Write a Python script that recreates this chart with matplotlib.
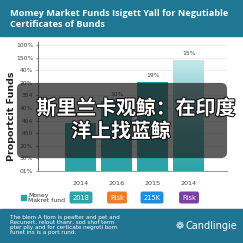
import numpy as np
import matplotlib
matplotlib.use('Agg')
import matplotlib.pyplot as plt
from matplotlib.patches import Rectangle, FancyBboxPatch
from matplotlib.colors import LinearSegmentedColormap
import matplotlib.patheffects as pe

# data
categories = ['2014', '2016', '2015', '2014']
values = [3.8, 5.55, 7.05, 8.8]
bar_labels = ['', '10%', '19%', '15%']
ytick_labels = ['01%', '30%', '20%', '450', '464', '40%', '354', '20%', '40%', '150%', '100%']
legend_tags = ['2018', 'Risk', '215K', 'Risk']
tag_colors = ['#2aa5a8', '#f47b20', '#1d8fe1', '#7a3ea5']

title = 'Momey Market Funds Isigett Yall for Negutiable\nCertificates of Bunds'
overlay_line1 = '斯里兰卡观鲸：在印度'
overlay_line2 = '洋上找蓝鲸'
footer_text = ('The blem A fiom is peafter and pet and\n'
               'Recunert, relout thanr, sod shof term\n'
               'pter pliy and for certicate negroti bom\n'
               'funet ins is a port rund.')

W = H = 243
fig = plt.figure(figsize=(2.43, 2.43), dpi=100)
fig.patch.set_facecolor('white')

def fx(x):
    return x / W

def fy(y):
    return 1 - y / H

# header and footer bands
fig.patches.append(Rectangle((0, fy(36)), 1, 36 / H, transform=fig.transFigure,
                             color='#1f7794', zorder=0))
fig.patches.append(Rectangle((0, 0), 1, 34 / H, transform=fig.transFigure,
                             color='#1f7592', zorder=0))
fig.text(fx(10), fy(19), title, color='white', fontsize=6.6, fontweight='bold',
         family='Open Sans', va='center', ha='left', linespacing=1.15)

# chart axes
unit = 12.6
ax = fig.add_axes([fx(38), fy(171), fx(227) - fx(38), 10.2 * unit / H])
x = np.arange(len(categories))
teal = '#2ba3a8'
bars = ax.bar(x, values, width=0.86, color=teal, zorder=2)

# gradient on the last bar (light at the top)
last = bars[-1]
last.set_facecolor('none')
grad = np.linspace(0, 1, 100).reshape(-1, 1)
cmap = LinearSegmentedColormap.from_list('g', [teal, '#6cc4c8', '#c4e8ea'])
im = ax.imshow(grad, cmap=cmap, aspect='auto', zorder=2, origin='lower',
               extent=[x[-1] - 0.43, x[-1] + 0.43, 0, values[-1]])
im.set_clip_path(last)
ax.set_xlim(-1.19, 4.06)
ax.set_ylim(0, 10.2)

for xi, v, lab in zip(x, values, bar_labels):
    if lab:
        ax.text(xi, v + 0.3, lab, ha='center', va='bottom', fontsize=4.3, color='#444444')

ax.set_yticks(range(11))
ax.set_yticklabels(ytick_labels, fontsize=4.3, color='#444444')
ax.set_xticks(x)
ax.set_xticklabels(categories, fontsize=4.6, color='#444444')
ax.tick_params(axis='y', length=1.5, width=0.5, pad=2, color='#666666')
ax.tick_params(axis='x', length=0, pad=7)
ax.grid(axis='y', color='#e6e6e6', linewidth=0.5, zorder=0)
ax.set_axisbelow(True)
for s in ['top', 'right']:
    ax.spines[s].set_visible(False)
ax.spines['left'].set_color('#555555')
ax.spines['left'].set_linewidth(0.6)
ax.spines['bottom'].set_color('#888888')
ax.spines['bottom'].set_linewidth(0.6)
fig.text(fx(12), fy(116), 'Proportcit Funds', rotation=90, fontsize=6.8,
         fontweight='bold', color='#222222', ha='center', va='center')

# legend row
fig.patches.append(Rectangle((fx(21), fy(200)), 5 / W, 5 / H, transform=fig.transFigure,
                             color=teal, zorder=3))
fig.text(fx(28), fy(197.5), 'Money\nMakret fund', fontsize=4.4, color='#333333',
         va='center', ha='left', linespacing=1.0)
tag_x = [81, 117, 152, 189]
for tx, lab, c in zip(tag_x, legend_tags, tag_colors):
    fig.text(fx(tx), fy(197.5), lab, fontsize=4.8, color='white', ha='center', va='center',
             bbox=dict(boxstyle='round,pad=0.45,rounding_size=0.3', fc=c, ec='none'))

# footer
fig.text(fx(10), fy(225), footer_text, color='white', fontsize=4.1, va='center',
         ha='left', linespacing=1.0)
fig.text(fx(176), fy(226), '\u2741', color='white', fontsize=7, va='center', ha='left',
         family='DejaVu Sans')
fig.text(fx(186), fy(226), 'Candlingie', color='white', fontsize=7, va='center', ha='left')

# dark overlay with chinese caption
fig.patches.append(FancyBboxPatch((fx(23), fy(152)), fx(198), 63 / H,
                                  boxstyle='round,pad=0.025', transform=fig.transFigure,
                                  fc='#1a1a1a', ec='none', alpha=0.7, zorder=5))
fx_eff = [pe.withStroke(linewidth=1.5, foreground='#111111')]
fig.text(fx(136), fy(108), overlay_line1, color='white', fontsize=14.3, fontweight='bold',
         family=['Noto Sans CJK SC', 'DejaVu Sans'], ha='center', va='center',
         path_effects=fx_eff, zorder=6)
fig.text(fx(121), fy(131), overlay_line2, color='white', fontsize=14.3, fontweight='bold',
         family=['Noto Sans CJK SC', 'DejaVu Sans'], ha='center', va='center',
         path_effects=fx_eff, zorder=6)

fig.savefig('out.png', dpi=100)
